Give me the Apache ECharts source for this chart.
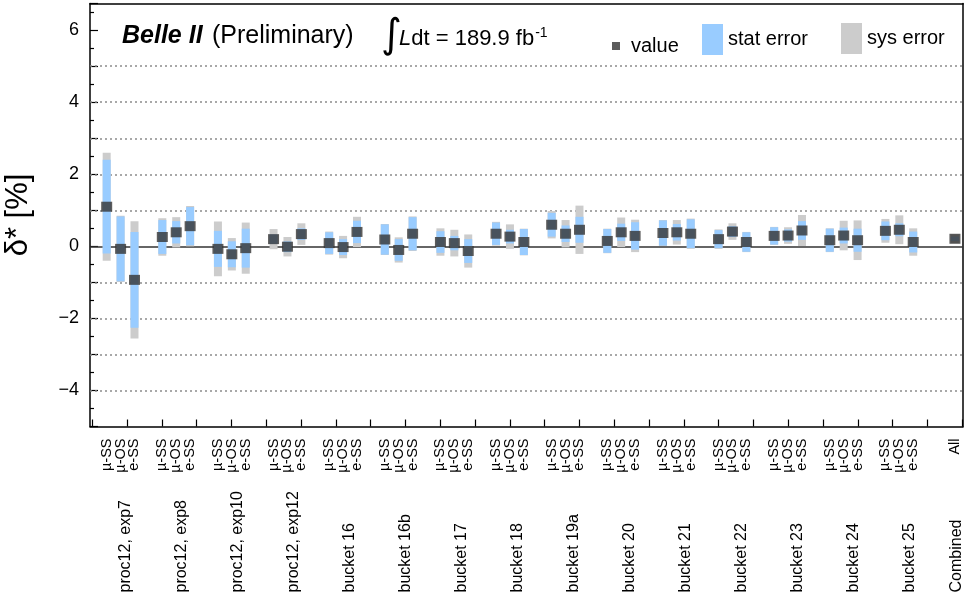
<!DOCTYPE html>
<html>
<head>
<meta charset="utf-8">
<script src="https://cdn.jsdelivr.net/npm/echarts@6/dist/echarts.min.js"></script>
<style>
html,body{margin:0;padding:0;background:#fff;}
#chart{width:964px;height:599px;}
</style>
</head>
<body>
<div id="chart"></div>
<script>
// ---------------- data ----------------
const groups = ['proc12, exp7','proc12, exp8','proc12, exp10','proc12, exp12',
  'bucket 16','bucket 16b','bucket 17','bucket 18','bucket 19a','bucket 20',
  'bucket 21','bucket 22','bucket 23','bucket 24','bucket 25'];
const combinedGroup = 'Combined';
const channels = ['\u00b5-SS','\u00b5-OS','e-SS'];
const combinedChannel = 'All';

// values per group: [µ-SS, µ-OS, e-SS]
const values = [
  [1.10,-0.07,-0.93],[0.26,0.39,0.56],[-0.07,-0.22,-0.05],[0.20,-0.01,0.34],
  [0.09,-0.02,0.40],[0.19,-0.10,0.35],[0.12,0.09,-0.13],[0.35,0.27,0.12],
  [0.60,0.35,0.46],[0.15,0.39,0.29],[0.37,0.39,0.35],[0.20,0.41,0.12],
  [0.29,0.30,0.44],[0.17,0.30,0.17],[0.43,0.46,0.12]
];
const statErr = [
  [1.30,0.90,1.33],[0.47,0.31,0.53],[0.50,0.36,0.54],[0.13,0.15,0.16],
  [0.30,0.22,0.31],[0.42,0.30,0.46],[0.30,0.20,0.33],[0.31,0.19,0.36],
  [0.33,0.23,0.36],[0.33,0.24,0.38],[0.35,0.23,0.40],[0.25,0.15,0.27],
  [0.24,0.17,0.26],[0.32,0.22,0.32],[0.26,0.18,0.29]
];
// total (stat + sys) half-width of the grey band
const totalErr = [
  [1.50,0.92,1.63],[0.52,0.42,0.56],[0.76,0.45,0.71],[0.28,0.27,0.30],
  [0.32,0.31,0.42],[0.43,0.35,0.48],[0.38,0.37,0.46],[0.33,0.34,0.37],
  [0.38,0.38,0.67],[0.34,0.41,0.45],[0.36,0.34,0.42],[0.27,0.23,0.28],
  [0.25,0.23,0.43],[0.33,0.41,0.55],[0.33,0.40,0.38]
];
const combinedValue = 0.21;
const combinedStat = 0.06;
const combinedTotal = 0.12;

const yTickLabels = [-4,-2,0,2,4,6];
const gridValues = [-4,-3,-2,-1,1,2,3,4,5];

// ---------------- layout helpers ----------------
const BINS_PER_GROUP = 4;
const COMBINED_BIN = 61;
const X_MIN = -1.2, X_MAX = 61.58;
const Y_MIN = -5, Y_MAX = 6.74;

const pts = [];   // [bin, value, stat, total]
const subLabelMap = {};
const channelPos = [[], [], []];
groups.forEach((g, gi) => {
  channels.forEach((c, ci) => {
    const b = gi * BINS_PER_GROUP + ci;
    pts.push([b, values[gi][ci], statErr[gi][ci], totalErr[gi][ci]]);
    subLabelMap[b.toFixed(3)] = c;
    channelPos[ci].push(b);
  });
});
pts.push([COMBINED_BIN, combinedValue, combinedStat, combinedTotal]);
subLabelMap[COMBINED_BIN.toFixed(3)] = combinedChannel;
channelPos[0].push(COMBINED_BIN);

const groupLabelMap = {};
const groupLabelPos = [];
groups.forEach((g, gi) => {
  const p = 1.39 + 4.027 * gi;
  groupLabelPos.push(p);
  groupLabelMap[p.toFixed(3)] = g;
});
groupLabelPos.push(COMBINED_BIN + 0.1);
groupLabelMap[(COMBINED_BIN + 0.1).toFixed(3)] = combinedGroup;

const xTicks = [];
for (let k = 0; k <= 25; k++) xTicks.push(-1.035 + k * 2.5026);

const FONT = 'Liberation Sans, Arial, Helvetica, sans-serif';
const BAR_W = 8;

function errRender(idx) {
  return function (params, api) {
    const x = api.value(0), v = api.value(1), e = api.value(idx);
    const top = api.coord([x, v + e]);
    const bot = api.coord([x, v - e]);
    return {
      type: 'rect',
      shape: { x: top[0] - BAR_W / 2, y: top[1], width: BAR_W, height: bot[1] - top[1] },
      style: { fill: api.visual('color') }
    };
  };
}

const chart = echarts.init(document.getElementById('chart'), null, { renderer: 'canvas' });
const baseX = { type: 'value', min: X_MIN, max: X_MAX, splitLine: { show: false } };

function channelAxis(ci) {
  return Object.assign({}, baseX, {
    position: 'bottom',
    axisLine: { show: false }, axisTick: { show: false },
    axisLabel: {
      show: true, customValues: channelPos[ci], rotate: 90, margin: 12,
      showMinLabel: true, showMaxLabel: true, hideOverlap: false,
      fontSize: 14.5, fontFamily: FONT, color: '#000',
      formatter: v => subLabelMap[Number(v).toFixed(3)] || ''
    }
  });
}

chart.setOption({
  animation: false,
  backgroundColor: '#fff',
  grid: { left: 90, right: 1, top: 3.5, bottom: 172.5, containLabel: false, outerBoundsMode: 'none' },
  xAxis: [
    Object.assign({}, baseX, {
      position: 'bottom',
      axisLine: { show: true, onZero: false, lineStyle: { color: '#000', width: 1.5 } },
      axisTick: { show: true, inside: true, length: 7, customValues: xTicks, lineStyle: { color: '#000', width: 1.2 } },
      axisLabel: { show: false }
    }),
    channelAxis(0), channelAxis(1), channelAxis(2),
    Object.assign({}, baseX, {
      position: 'bottom',
      axisLine: { show: false },
      axisTick: { show: false },
      axisLabel: {
        show: true, customValues: groupLabelPos, rotate: 90, margin: 166, align: 'left',
        showMinLabel: true, showMaxLabel: true, hideOverlap: false,
        fontSize: 16, fontFamily: FONT, color: '#000',
        formatter: v => groupLabelMap[Number(v).toFixed(3)] || ''
      }
    }),
    Object.assign({}, baseX, {
      position: 'top',
      axisLine: { show: true, onZero: false, lineStyle: { color: '#000', width: 1.5 } },
      axisTick: { show: false }, axisLabel: { show: false }
    })
  ],
  yAxis: [
    {
      type: 'value', min: Y_MIN, max: Y_MAX, interval: 1, position: 'left', offset: 0,
      splitLine: { show: false },
      name: '\u03b4* [%]', nameLocation: 'middle', nameGap: 56, nameRotate: 90,
      nameTextStyle: { fontSize: 31, fontFamily: FONT, color: '#000' },
      axisLine: { show: true, onZero: false, lineStyle: { color: '#000', width: 1.5 } },
      axisTick: { show: true, inside: true, length: 8, lineStyle: { color: '#000', width: 1.2 } },
      minorTick: { show: true, splitNumber: 2, length: 4, lineStyle: { color: '#000', width: 1.2 } },
      axisLabel: {
        show: true, margin: 11, fontSize: 18, fontFamily: FONT, color: '#000',
        showMinLabel: true, showMaxLabel: true,
        formatter: v => (yTickLabels.indexOf(v) >= 0 ? (v < 0 ? '\u2212' + Math.abs(v) : String(v)) : '')
      }
    },
    {
      type: 'value', min: Y_MIN, max: Y_MAX, position: 'right', offset: 0,
      splitLine: { show: false },
      axisLine: { show: true, onZero: false, lineStyle: { color: '#000', width: 1.5 } },
      axisTick: { show: false }, axisLabel: { show: false }
    }
  ],
  legend: [
    { data: ['value'], left: 612, top: 36, padding: 0, itemWidth: 8, itemHeight: 8, icon: 'rect',
      textStyle: { fontSize: 20, fontFamily: FONT, color: '#000', padding: [0, 0, 0, 6] } },
    { data: ['stat error'], left: 702, top: 24, padding: 0, itemWidth: 21, itemHeight: 31, icon: 'rect',
      textStyle: { fontSize: 20, fontFamily: FONT, color: '#000' } },
    { data: ['sys error'], left: 841, top: 23, padding: 0, itemWidth: 21, itemHeight: 31, icon: 'rect',
      textStyle: { fontSize: 20, fontFamily: FONT, color: '#000' } }
  ],
  graphic: [
    { type: 'text', left: 122, top: 24, style: { text: 'Belle II', font: 'italic bold 25px ' + FONT, fill: '#000' } },
    { type: 'text', left: 212, top: 24, style: { text: '(Preliminary)', font: '25px ' + FONT, fill: '#000' } },
    { type: 'text', left: 381, top: 17, style: { text: '\u222b', font: '40px DejaVu Sans', fill: '#000' } },
    { type: 'text', left: 399, top: 26, style: {
        text: '{i|L}dt = 189.9 fb{s|-1}', font: '22px ' + FONT, fill: '#000',
        rich: { i: { fontStyle: 'italic', fontSize: 22, fontFamily: FONT }, s: { fontSize: 14, fontFamily: FONT, verticalAlign: 'top', padding: [0, 0, 12, 1] } }
    } }
  ],
  series: [
    {
      name: 'sys error', type: 'custom', xAxisIndex: 0, yAxisIndex: 0,
      itemStyle: { color: '#cccccc' },
      renderItem: errRender(3), encode: { x: 0, y: 1 },
      data: pts.map(p => [p[0], p[1], p[2], p[3]]), z: 2
    },
    {
      name: 'stat error', type: 'custom', xAxisIndex: 0, yAxisIndex: 0,
      itemStyle: { color: '#99ccff' },
      renderItem: errRender(2), encode: { x: 0, y: 1 },
      data: pts.map(p => [p[0], p[1], p[2], p[3]]), z: 3
    },
    {
      name: 'value', type: 'scatter', xAxisIndex: 0, yAxisIndex: 0,
      symbol: 'rect', symbolSize: [11, 10],
      itemStyle: { color: '#333333' },
      data: pts.map(p => [p[0], p[1]]), z: 5,
      markLine: {
        silent: true, symbol: 'none', label: { show: false }, z: 1,
        data: gridValues.map(v => ({ yAxis: v, lineStyle: { color: '#8c8c8c', width: 1.5, type: [2, 3] } }))
          .concat([{ yAxis: 0, lineStyle: { color: '#333', width: 1.5, type: 'solid' } }])
      }
    }
  ]
});
</script>
</body>
</html>
